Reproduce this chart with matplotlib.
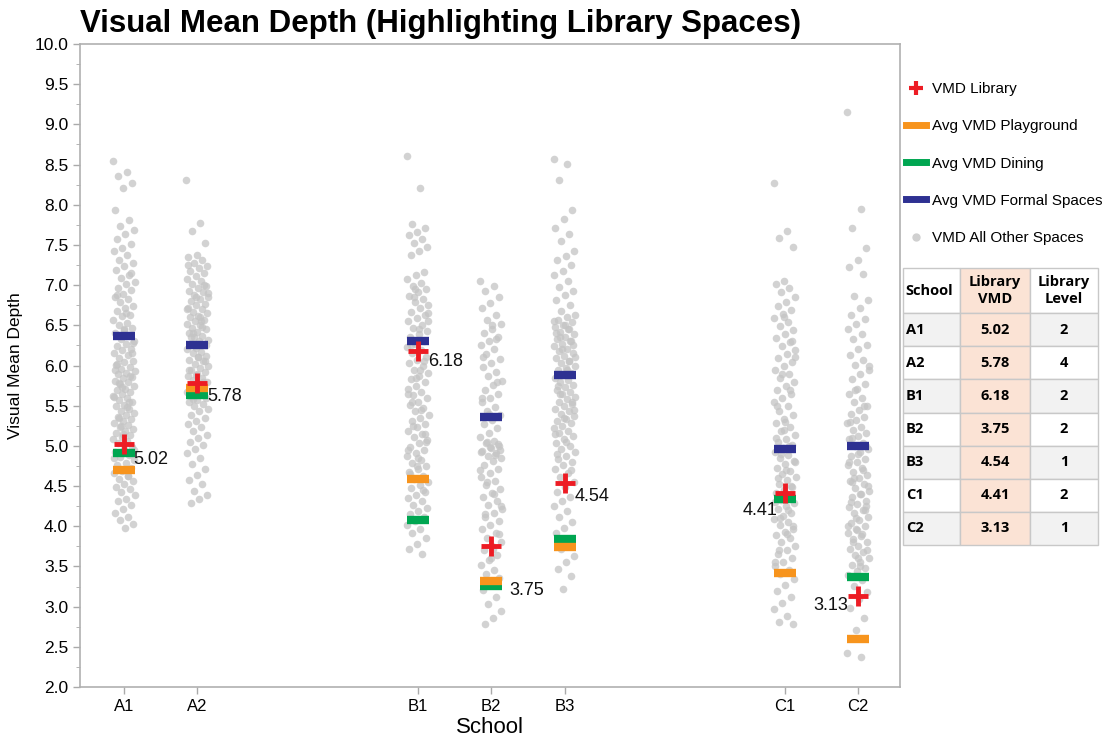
import matplotlib
matplotlib.use("Agg")
import matplotlib.pyplot as plt
import numpy as np
from matplotlib.lines import Line2D
from matplotlib.ticker import MultipleLocator

# ---------------- data ----------------
schools = ["A1", "A2", "B1", "B2", "B3", "C1", "C2"]
library_vmd = [5.02, 5.78, 6.18, 3.75, 4.54, 4.41, 3.13]
library_level = [2, 4, 2, 2, 1, 2, 1]
avg_playground = [4.70, 5.72, 4.59, 3.32, 3.74, 3.42, 2.60]
avg_dining = [4.91, 5.63, 4.08, 3.26, 3.84, 4.34, 3.37]
avg_formal = [6.37, 6.25, 6.30, 5.36, 5.88, 4.96, 5.00]

other_A1 = [8.55, 8.41, 8.36, 8.27, 8.21, 7.93, 7.81, 7.74, 7.68, 7.63, 7.57, 7.51, 7.46, 7.42, 7.38, 7.31, 7.27, 7.24, 7.19, 7.13, 7.09, 7.04, 7.01, 6.96, 6.94, 6.89, 6.85, 6.83, 6.79, 6.74, 6.71, 6.68, 6.63, 6.61, 6.57, 6.53, 6.51, 6.47, 6.44, 6.41, 6.38, 6.33, 6.31, 6.27, 6.24, 6.21, 6.19, 6.16, 6.13, 6.09, 6.06, 6.04, 6.01, 5.98, 5.96, 5.93, 5.91, 5.89, 5.86, 5.84, 5.81, 5.79, 5.77, 5.74, 5.71, 5.69, 5.67, 5.64, 5.61, 5.59, 5.57, 5.54, 5.51, 5.49, 5.46, 5.44, 5.41, 5.39, 5.36, 5.33, 5.31, 5.28, 5.26, 5.23, 5.21, 5.18, 5.16, 5.13, 5.11, 5.08, 5.06, 5.03, 4.99, 4.96, 4.93, 4.89, 4.86, 4.83, 4.79, 4.76, 4.73, 4.69, 4.66, 4.63, 4.59, 4.56, 4.53, 4.49, 4.46, 4.43, 4.39, 4.34, 4.31, 4.26, 4.21, 4.17, 4.12, 4.08, 4.03, 3.98, 6.02, 5.87, 5.73, 5.62, 5.48, 5.35, 6.15, 6.45, 5.95, 5.55, 5.25, 4.95, 6.65, 6.88, 7.15, 5.15, 4.85, 4.62, 5.78, 6.28]
other_A2 = [8.31, 7.77, 7.67, 7.52, 7.38, 7.35, 7.31, 7.28, 7.24, 7.21, 7.18, 7.15, 7.11, 7.08, 7.05, 7.02, 6.99, 6.96, 6.93, 6.91, 6.88, 6.85, 6.83, 6.80, 6.77, 6.75, 6.72, 6.70, 6.67, 6.65, 6.62, 6.60, 6.57, 6.55, 6.52, 6.50, 6.47, 6.45, 6.42, 6.40, 6.37, 6.35, 6.32, 6.30, 6.27, 6.25, 6.22, 6.20, 6.17, 6.15, 6.12, 6.10, 6.07, 6.05, 6.02, 6.00, 5.97, 5.95, 5.92, 5.90, 5.87, 5.85, 5.82, 5.80, 5.77, 5.75, 5.72, 5.70, 5.67, 5.65, 5.62, 5.60, 5.57, 5.55, 5.52, 5.50, 5.46, 5.43, 5.39, 5.35, 5.31, 5.27, 5.23, 5.19, 5.14, 5.10, 5.05, 5.01, 4.96, 4.91, 4.85, 4.78, 4.71, 4.64, 4.58, 4.52, 4.44, 4.39, 4.34, 4.29, 7.00, 6.85, 6.70, 6.55, 6.40, 6.25, 6.10, 5.95, 5.80, 5.65, 6.90, 6.60, 6.35, 6.05, 5.88, 7.25, 6.48, 5.58]
other_B1 = [8.61, 8.21, 7.76, 7.71, 7.66, 7.62, 7.57, 7.52, 7.47, 7.43, 7.38, 7.16, 7.12, 7.08, 7.03, 6.99, 6.95, 6.91, 6.87, 6.83, 6.79, 6.75, 6.71, 6.67, 6.63, 6.59, 6.55, 6.51, 6.47, 6.43, 6.39, 6.35, 6.31, 6.27, 6.23, 6.19, 6.15, 6.11, 6.07, 6.03, 5.99, 5.95, 5.91, 5.87, 5.83, 5.79, 5.75, 5.71, 5.67, 5.63, 5.59, 5.55, 5.51, 5.47, 5.43, 5.39, 5.35, 5.31, 5.27, 5.23, 5.19, 5.15, 5.11, 5.07, 5.03, 4.99, 4.95, 4.91, 4.87, 4.83, 4.79, 4.75, 4.71, 4.67, 4.63, 4.59, 4.55, 4.51, 4.47, 4.43, 4.39, 4.35, 4.31, 4.27, 4.23, 4.19, 4.15, 4.11, 4.06, 4.01, 3.96, 3.91, 3.85, 3.78, 3.72, 3.66, 6.85, 6.65, 6.45, 6.25, 6.05, 5.85, 5.65, 5.45, 5.25, 5.05, 4.85, 4.65, 4.45, 6.95, 6.55, 5.95, 5.55, 5.15, 4.75, 4.95]
other_B2 = [7.05, 6.99, 6.93, 6.85, 6.78, 6.71, 6.63, 6.57, 6.52, 6.46, 6.41, 6.36, 6.30, 6.25, 6.20, 6.14, 6.08, 6.03, 5.98, 5.92, 5.87, 5.81, 5.76, 5.70, 5.65, 5.59, 5.54, 5.48, 5.43, 5.38, 5.32, 5.27, 5.22, 5.16, 5.11, 5.06, 5.03, 5.00, 4.97, 4.94, 4.91, 4.88, 4.85, 4.81, 4.76, 4.71, 4.66, 4.61, 4.56, 4.51, 4.46, 4.41, 4.36, 4.31, 4.26, 4.21, 4.16, 4.11, 4.06, 4.01, 3.96, 3.91, 3.86, 3.81, 3.76, 3.70, 3.64, 3.58, 3.52, 3.46, 3.40, 3.35, 3.28, 3.21, 3.12, 3.03, 2.95, 2.86, 2.79, 5.02, 4.98, 4.92, 4.89, 5.05, 4.95, 6.50, 6.10, 5.80, 5.40, 4.70, 4.40, 4.15, 3.90, 3.60, 5.60, 6.33, 4.55, 4.25, 3.72]
other_B3 = [8.57, 8.51, 8.31, 7.93, 7.82, 7.71, 7.63, 7.55, 7.42, 7.36, 7.31, 7.25, 7.18, 7.12, 7.05, 6.98, 6.93, 6.88, 6.82, 6.75, 6.68, 6.63, 6.60, 6.57, 6.54, 6.51, 6.48, 6.45, 6.42, 6.39, 6.36, 6.33, 6.30, 6.27, 6.24, 6.21, 6.18, 6.15, 6.12, 6.09, 6.06, 6.03, 6.00, 5.97, 5.94, 5.91, 5.88, 5.85, 5.82, 5.79, 5.76, 5.73, 5.70, 5.67, 5.64, 5.61, 5.58, 5.55, 5.52, 5.49, 5.46, 5.43, 5.40, 5.37, 5.34, 5.31, 5.28, 5.25, 5.22, 5.19, 5.16, 5.12, 5.08, 5.04, 5.00, 4.96, 4.92, 4.88, 4.84, 4.80, 4.76, 4.71, 4.66, 4.61, 4.55, 4.49, 4.43, 4.37, 4.31, 4.25, 4.19, 4.12, 4.05, 3.98, 3.91, 3.82, 3.72, 3.63, 3.55, 3.47, 3.38, 3.22, 6.55, 6.45, 6.35, 6.25, 6.50, 6.40, 6.30, 6.20, 6.10, 5.95, 5.75, 5.55, 5.35, 5.15, 6.05, 5.65, 5.45, 5.05, 4.90, 4.70]
other_C1 = [8.27, 7.67, 7.59, 7.47, 7.05, 7.01, 6.96, 6.91, 6.85, 6.79, 6.74, 6.69, 6.64, 6.59, 6.54, 6.49, 6.44, 6.39, 6.34, 6.29, 6.24, 6.19, 6.14, 6.09, 6.04, 5.99, 5.94, 5.89, 5.84, 5.79, 5.74, 5.69, 5.64, 5.59, 5.54, 5.49, 5.44, 5.39, 5.34, 5.29, 5.24, 5.19, 5.14, 5.09, 5.05, 5.01, 4.97, 4.93, 4.89, 4.85, 4.81, 4.77, 4.73, 4.69, 4.65, 4.61, 4.57, 4.53, 4.49, 4.45, 4.41, 4.37, 4.33, 4.29, 4.25, 4.21, 4.17, 4.13, 4.09, 4.05, 4.01, 3.97, 3.93, 3.89, 3.85, 3.81, 3.76, 3.71, 3.66, 3.61, 3.56, 3.51, 3.46, 3.40, 3.34, 3.27, 3.20, 3.12, 3.05, 2.97, 2.88, 2.81, 2.79, 5.20, 5.10, 5.00, 4.90, 4.80, 4.70, 4.60, 4.50, 4.40, 4.30, 4.20, 4.10, 4.00, 5.30, 5.50, 5.70, 5.90, 6.10, 3.90, 3.70, 6.30, 6.60, 3.55]
other_C2 = [9.15, 7.95, 7.71, 7.46, 7.31, 7.22, 7.14, 6.86, 6.81, 6.72, 6.63, 6.58, 6.52, 6.46, 6.39, 6.33, 6.26, 6.20, 6.13, 6.07, 6.01, 5.95, 5.89, 5.83, 5.77, 5.71, 5.65, 5.60, 5.55, 5.50, 5.45, 5.40, 5.36, 5.32, 5.28, 5.24, 5.20, 5.16, 5.12, 5.08, 5.04, 5.00, 4.96, 4.92, 4.88, 4.84, 4.80, 4.76, 4.72, 4.68, 4.64, 4.60, 4.56, 4.52, 4.48, 4.44, 4.40, 4.36, 4.32, 4.28, 4.24, 4.20, 4.16, 4.12, 4.08, 4.04, 4.00, 3.96, 3.92, 3.88, 3.84, 3.80, 3.76, 3.72, 3.68, 3.64, 3.60, 3.56, 3.52, 3.48, 3.44, 3.39, 3.33, 3.26, 3.18, 3.09, 2.98, 2.86, 2.71, 2.42, 2.37, 5.10, 5.00, 4.90, 4.80, 4.70, 4.60, 4.50, 4.40, 4.30, 4.20, 4.10, 4.00, 3.90, 3.80, 3.70, 3.60, 5.30, 5.50, 5.70, 6.00, 3.50, 4.55, 4.25, 3.95]
other_spaces = [other_A1, other_A2, other_B1, other_B2, other_B3, other_C1, other_C2]

# ---------------- layout / style ----------------
xpos = [0, 1, 4, 5, 6, 9, 10]
label_offsets_px = [(9, -15), (10, -13), (10, -10), (18, -44), (10, -14), (-7, -17), (-10, -9)]
label_ha = ["left", "left", "left", "left", "left", "right", "right"]

C_ORANGE = "#f7941d"
C_GREEN = "#00a651"
C_BLUE = "#2e3192"
C_RED = "#ed1c24"
C_GRAY = "#c4c4c4"

FONT = ["Liberation Sans", "DejaVu Sans"]
NARROW = ["Liberation Sans Narrow", "Liberation Sans", "DejaVu Sans"]
plt.rcParams["font.family"] = FONT

W, H = 1113, 740
fig = plt.figure(figsize=(W / 100, H / 100), dpi=100)
ax = fig.add_axes([80 / W, 1 - 687 / H, (900 - 80) / W, (687 - 44) / H])

# gray jittered points
for xp, vals in zip(xpos, other_spaces):
    n = len(vals)
    jit = (((np.arange(n) * 0.6180339887) % 1.0) - 0.5) * 0.30
    ax.scatter(xp + jit, vals, s=30, color=C_GRAY, alpha=0.75, linewidths=0, zorder=2)

hw = 0.15
xs = np.array(xpos, dtype=float)
ax.hlines(avg_formal, xs - hw, xs + hw, colors=C_BLUE, lw=6, zorder=3)
ax.hlines(avg_dining, xs - hw, xs + hw, colors=C_GREEN, lw=6, zorder=3)
ax.hlines(avg_playground, xs - hw, xs + hw, colors=C_ORANGE, lw=6, zorder=3)
ax.plot(xs, library_vmd, linestyle="none", marker="+", markersize=15,
        markeredgewidth=3.5, color=C_RED, zorder=5)

for xp, v, off, ha in zip(xpos, library_vmd, label_offsets_px, label_ha):
    ax.annotate(f"{v:.2f}", (xp, v), xytext=(off[0] * 0.72, off[1] * 0.72),
                textcoords="offset points", ha=ha, va="center", fontsize=13,
                color="#111111", zorder=6)

ax.set_xlim(-0.6, 10.57)
ax.set_ylim(2.0, 10.0)
ax.set_xticks(xpos)
ax.set_xticklabels(schools, fontsize=12)
ax.yaxis.set_major_locator(MultipleLocator(0.5))
ax.yaxis.set_minor_locator(MultipleLocator(0.25))
ax.set_yticklabels([f"{v:.1f}" for v in ax.get_yticks()], fontsize=12.5)
ax.tick_params(axis="both", direction="out", color="#aaaaaa", length=5, width=1)
ax.tick_params(axis="y", which="minor", direction="out", color="#aaaaaa", length=3)
for sp in ax.spines.values():
    sp.set_color("#b0b0b0")
    sp.set_linewidth(1.2)
ax.set_xlabel("School", fontsize=16, labelpad=2)
ax.set_ylabel("Visual Mean Depth", fontsize=12.5, family=NARROW, labelpad=8)

fig.text(80 / W, 1 - 24 / H, "Visual Mean Depth (Highlighting Library Spaces)",
         fontsize=22.5, fontweight="bold", family=NARROW, ha="left", va="center")

# legend
handles = [
    Line2D([], [], linestyle="none", marker="+", markersize=10, markeredgewidth=3, color=C_RED),
    Line2D([], [], color=C_ORANGE, lw=5),
    Line2D([], [], color=C_GREEN, lw=5),
    Line2D([], [], color=C_BLUE, lw=5),
    Line2D([], [], linestyle="none", marker="o", markersize=6, color="#d0d0d0", markeredgewidth=0),
]
labels = ["VMD Library", "Avg VMD Playground", "Avg VMD Dining",
          "Avg VMD Formal Spaces", "VMD All Other Spaces"]
fig.legend(handles, labels, loc="upper left", bbox_to_anchor=(900 / W, 1 - 76 / H),
           frameon=False, fontsize=11, handlelength=1.3, handletextpad=0.4,
           labelspacing=1.52, borderaxespad=0)

# table
tax = fig.add_axes([903 / W, 1 - 545 / H, 195 / W, 277 / H])
tax.axis("off")
cell_text = [["School", "Library\nVMD", "Library\nLevel"]]
for s, v, l in zip(schools, library_vmd, library_level):
    cell_text.append([s, f"{v:.2f}", str(l)])
nrows = len(cell_text)
row_h = [45] + [33] * (nrows - 1)
tot = sum(row_h)
col_w = [57 / 195, 70 / 195, 68 / 195]
tbl = tax.table(cellText=cell_text, cellLoc="center", loc="upper left",
                colWidths=col_w, bbox=[0, 0, 1, 1])
tbl.auto_set_font_size(False)
for (r, c), cell in tbl.get_celld().items():
    cell.set_height(row_h[r] / tot)
    cell.set_edgecolor("#c8c8c8")
    cell.set_linewidth(1)
    txt = cell.get_text()
    txt.set_fontsize(10.5)
    txt.set_fontweight("bold")
    txt.set_family(["Open Sans", "DejaVu Sans"])
    if c == 0:
        cell._loc = "left"
        txt.set_ha("left")
        cell.PAD = 0.05
    if c == 1:
        cell.set_facecolor("#fbe3d5")
    elif r > 0 and r % 2 == 1:
        cell.set_facecolor("#f2f2f2")
    else:
        cell.set_facecolor("white")

fig.savefig("out.png", dpi=100)
